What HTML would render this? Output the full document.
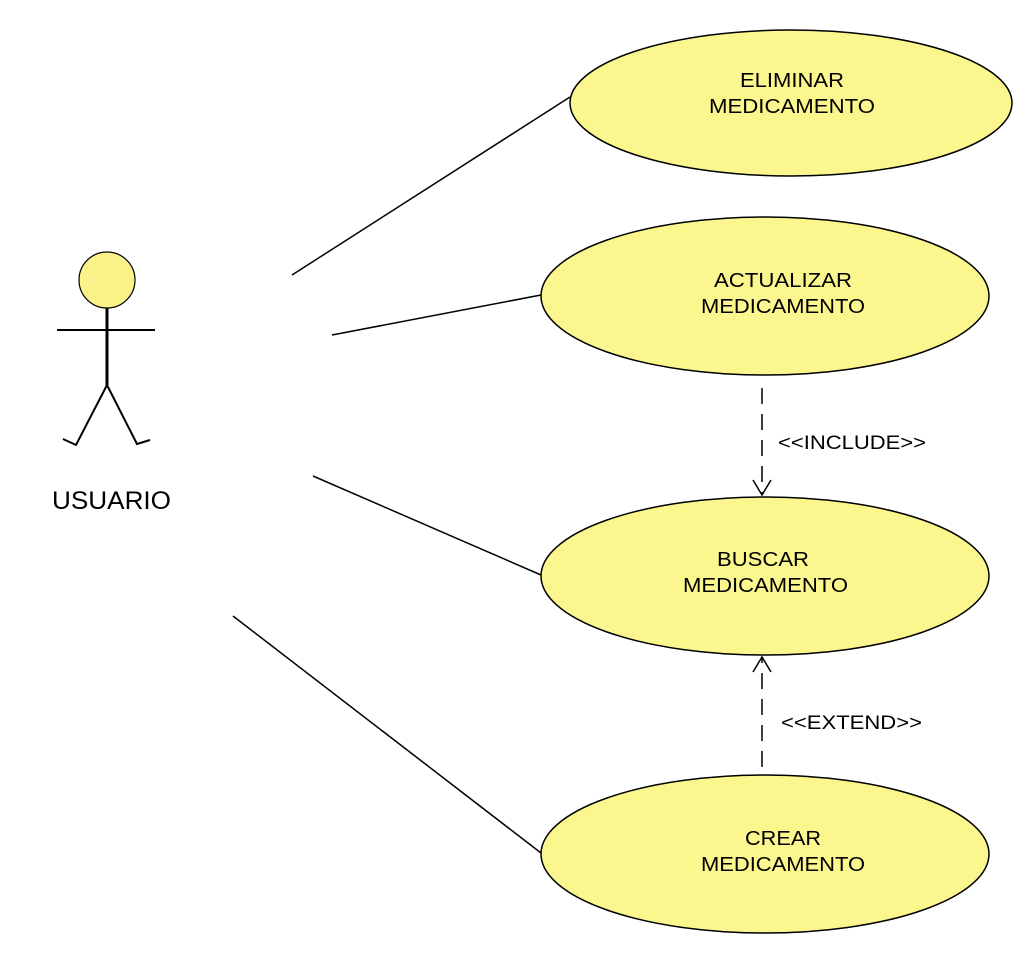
<!DOCTYPE html>
<html><head><meta charset="utf-8"><style>
html,body{margin:0;padding:0;background:#fff}
svg text{font-family:"Liberation Sans",Arial,sans-serif;fill:#000}
</style></head><body>
<svg width="1020" height="956" viewBox="0 0 1020 956">
<g stroke="#000" fill="none">
<circle cx="107" cy="280" r="28" fill="#fbf38a" stroke-width="1.2"/>
<line x1="107" y1="308" x2="107" y2="385" stroke-width="3"/>
<line x1="57" y1="330" x2="155" y2="330" stroke-width="2"/>
<polyline points="63,439 76,445 107,385 137,444 150,440" stroke-width="2"/>
</g>
<text x="52" y="509" font-size="25" textLength="119" lengthAdjust="spacingAndGlyphs">USUARIO</text>
<g stroke="#000" stroke-width="1.5">
<line x1="292" y1="275" x2="570" y2="97"/>
<line x1="332" y1="335" x2="541" y2="295"/>
<line x1="313" y1="476" x2="541" y2="575"/>
<line x1="233" y1="616" x2="541" y2="853"/>
</g>
<g fill="#fbf78e" stroke="#000" stroke-width="1.5">
<ellipse cx="791" cy="103" rx="221" ry="73"/>
<ellipse cx="765" cy="296" rx="224" ry="79"/>
<ellipse cx="765" cy="576" rx="224" ry="79"/>
<ellipse cx="765" cy="854" rx="224" ry="79"/>
</g>
<g font-size="20" lengthAdjust="spacingAndGlyphs">
<text x="740" y="87" textLength="104" lengthAdjust="spacingAndGlyphs">ELIMINAR</text>
<text x="709" y="113" textLength="166" lengthAdjust="spacingAndGlyphs">MEDICAMENTO</text>
<text x="714" y="287" textLength="138" lengthAdjust="spacingAndGlyphs">ACTUALIZAR</text>
<text x="701" y="313" textLength="164" lengthAdjust="spacingAndGlyphs">MEDICAMENTO</text>
<text x="717" y="566" textLength="92" lengthAdjust="spacingAndGlyphs">BUSCAR</text>
<text x="683" y="592" textLength="165" lengthAdjust="spacingAndGlyphs">MEDICAMENTO</text>
<text x="745" y="845" textLength="76" lengthAdjust="spacingAndGlyphs">CREAR</text>
<text x="701" y="871" textLength="164" lengthAdjust="spacingAndGlyphs">MEDICAMENTO</text>
</g>
<g stroke="#000" stroke-width="1.5" fill="none">
<line x1="762" y1="388" x2="762" y2="495" stroke-dasharray="16,10"/>
<polyline points="753,480 762,495 771,480"/>
<line x1="762" y1="767" x2="762" y2="657" stroke-dasharray="16,10"/>
<polyline points="753,672 762,657 771,672"/>
</g>
<text x="778" y="449" font-size="19" textLength="148" lengthAdjust="spacingAndGlyphs">&lt;&lt;INCLUDE&gt;&gt;</text>
<text x="781" y="729" font-size="19" textLength="141" lengthAdjust="spacingAndGlyphs">&lt;&lt;EXTEND&gt;&gt;</text>
</svg>
</body></html>
